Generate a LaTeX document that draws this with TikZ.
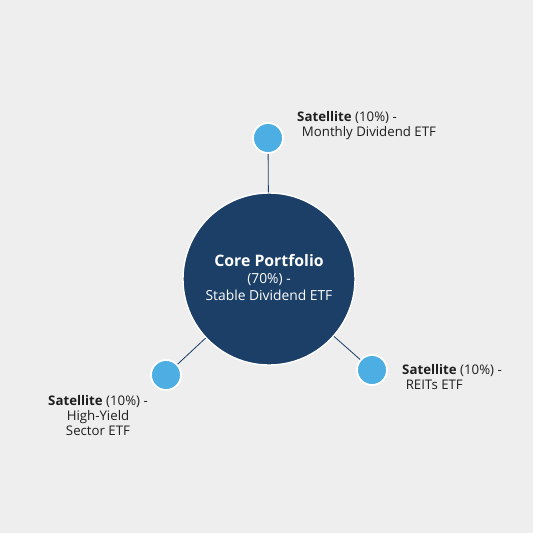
\documentclass[tikz,border=0pt]{standalone}
\usepackage{fontspec}
\setmainfont{Open Sans}
\usetikzlibrary{positioning}
\definecolor{bgcol}{HTML}{EEEEEE}
\definecolor{coreblue}{HTML}{1B3F67}
\definecolor{satblue}{HTML}{4DAEE3}
\definecolor{txtcol}{HTML}{1E1E1E}
\tikzset{
  core/.style={circle, fill=coreblue, draw=white, line width=1.2pt, minimum size=5.16cm, inner sep=0pt, text=white, align=center},
  sat/.style={circle, fill=satblue, draw=white, line width=1.5pt, minimum size=0.9cm, inner sep=0pt},
  lbl/.style={text=txtcol, font=\fontsize{11.3}{13}\selectfont, inner sep=0pt},
  link/.style={draw=coreblue, line width=0.7pt}
}
\begin{document}
\begin{tikzpicture}[x=0.03cm, y=-0.03cm]
                \fill[bgcol] (0,0) rectangle (533,533);
                \useasboundingbox (0,0) rectangle (533,533);
                % circles
                \node[core] (core) at (269,279) {};
                \node[sat] (top) at (268,138) {};
                \node[sat] (right) at (372,370) {};
                \node[sat] (left) at (166,375) {};
                % connectors
                \draw[link] (top) -- (core);
                \draw[link] (right) -- (core);
                \draw[link] (left) -- (core);
                % core text
                \node[text=white, font=\fontsize{13.5}{15}\selectfont\bfseries, inner sep=0pt] (coretitle) at (269,261) {Core Portfolio};
                \node[text=white, font=\fontsize{11.8}{14.5}\selectfont, inner sep=0pt, align=center] (coresub) at (269,287) {(70\%) -\\Stable Dividend ETF};
                % labels
                \node[lbl, align=left, anchor=north west] (toplbl) at (297,111) {\textbf{Satellite} (10\%) -\\\hspace{4pt}Monthly Dividend ETF};
                \node[lbl, align=left, anchor=north west] (rightlbl) at (402,364) {\textbf{Satellite} (10\%) -\\\hspace{3pt}REITs ETF};
                \node[lbl, align=center, anchor=north] (leftlbl) at (98,395) {\textbf{Satellite} (10\%) -\\High-Yield\\Sector ETF};
        \end{tikzpicture}
\end{document}
